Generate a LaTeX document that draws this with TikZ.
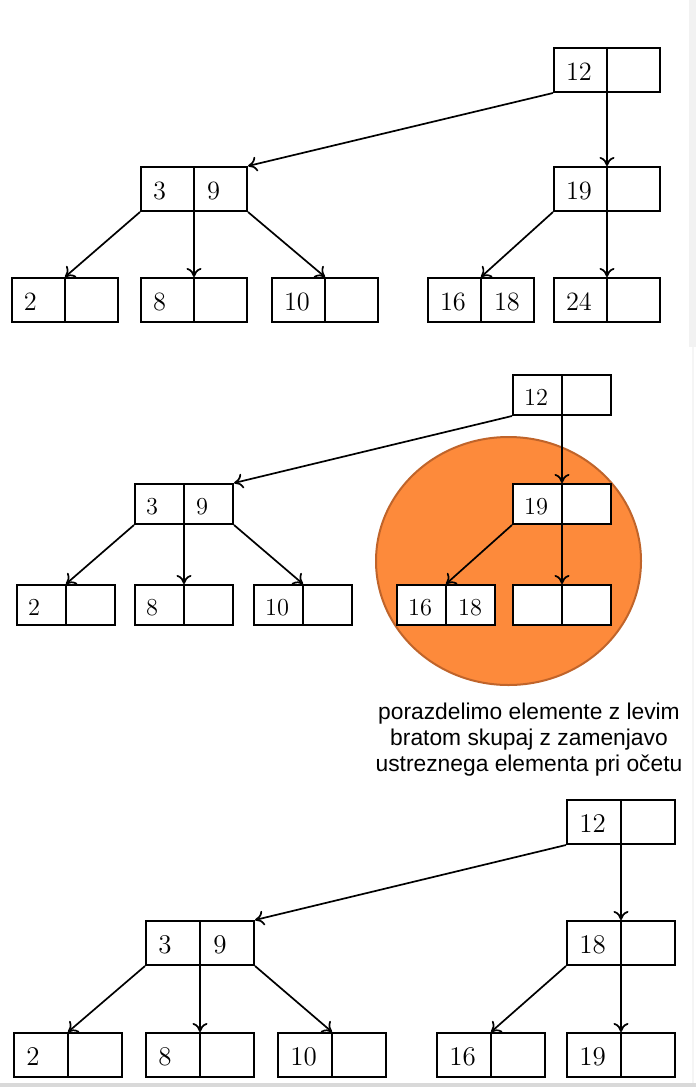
\documentclass[tikz,border=0pt]{standalone}
\usepackage{fontspec}
\newfontfamily\capfont{Liberation Sans}
\usetikzlibrary{arrows.meta,shapes.geometric}
\newcommand\inset{6.3pt}
\newcommand\bkey[6]{%
  \node[#4] (#1) at (#2,#3) {};
  \draw[divline] (#1.north) -- (#1.south);
  \node[lbl, anchor=base west] at ([xshift=\inset, yshift=-5.4pt]#1.west) {#5};
  \node[lbl, anchor=base west] at ([xshift=\inset, yshift=-5.4pt]#1.center) {#6};
}
\tikzset{
  cell/.style={draw, line width=1pt, fill=white, inner sep=0pt, rectangle},
  topbox/.style={cell, minimum width=53pt, minimum height=22pt},
  midbox/.style={cell, minimum width=49pt, minimum height=20pt},
  botbox/.style={cell, minimum width=54pt, minimum height=22pt},
  divline/.style={line width=1pt},
  lbl/.style={inner sep=0pt},
  arr/.style={-{To[length=4.5pt,width=7.5pt]}, line width=0.85pt},
}
\begin{document}
\begin{tikzpicture}[x=0.5pt,y=-0.5pt]
\useasboundingbox (0,0) rectangle (696,1087);
\fill[white] (0,0) rectangle (696,1087);
\fill[black!5] (689,0) rectangle (696,347);
\fill[black!4] (692,347) rectangle (694,1083);
\fill[black!15] (0,1083) rectangle (696,1087);

% ---------------- top panel ----------------
\begin{scope}[lbl/.append style={font=\fontsize{13.2}{15}\selectfont}]
\bkey{t12}{607}{70}{topbox}{12}{}
\bkey{t39}{194}{189}{topbox}{3}{9}
\bkey{t19}{607}{189}{topbox}{19}{}
\bkey{t2}{65}{300}{topbox}{2}{}
\bkey{t8}{194}{300}{topbox}{8}{}
\bkey{t10}{325}{300}{topbox}{10}{}
\bkey{t1618}{481}{300}{topbox}{16}{18}
\bkey{t24}{607}{300}{topbox}{24}{}
\draw[arr] (t12.south west) -- (t39.north east);
\draw[arr] (t12.south) -- (t19.north);
\draw[arr] (t39.south west) -- (t2.north);
\draw[arr] (t39.south) -- (t8.north);
\draw[arr] (t39.south east) -- (t10.north);
\draw[arr] (t19.south west) -- (t1618.north);
\draw[arr] (t19.south) -- (t24.north);
\end{scope}

% ---------------- middle panel ----------------
\node[draw={rgb,255:red,192;green,100;blue,42}, line width=1pt,
      fill={rgb,255:red,253;green,138;blue,59},
      ellipse, inner sep=0pt, minimum width=132.5pt, minimum height=124pt] (hl) at (508.5,561) {};
\begin{scope}[lbl/.append style={font=\fontsize{12.2}{14}\selectfont}]
\renewcommand\inset{5.9pt}
\bkey{m12}{562}{395}{midbox}{12}{}
\bkey{m39}{184}{504}{midbox}{3}{9}
\bkey{m19}{562}{504}{midbox}{19}{}
\bkey{m2}{66}{605}{midbox}{2}{}
\bkey{m8}{184}{605}{midbox}{8}{}
\bkey{m10}{303}{605}{midbox}{10}{}
\bkey{m1618}{446}{605}{midbox}{16}{18}
\bkey{mE}{562}{605}{midbox}{}{}
\draw[arr] (m12.south west) -- (m39.north east);
\draw[arr] (m12.south) -- (m19.north);
\draw[arr] (m39.south west) -- (m2.north);
\draw[arr] (m39.south) -- (m8.north);
\draw[arr] (m39.south east) -- (m10.north);
\draw[arr] (m19.south west) -- (m1618.north);
\draw[arr] (m19.south) -- (mE.north);
\end{scope}
\node[inner sep=0pt, align=center, font=\capfont\fontsize{11.4}{13}\selectfont]
  (cap) at (529,740) {porazdelimo elemente z levim\\bratom skupaj z zamenjavo\\ustreznega elementa pri očetu};

% ---------------- bottom panel ----------------
\begin{scope}[lbl/.append style={font=\fontsize{13.5}{16}\selectfont}]
\renewcommand\inset{6.5pt}
\bkey{b12}{621}{822}{botbox}{12}{}
\bkey{b39}{200}{943}{botbox}{3}{9}
\bkey{b18}{621}{943}{botbox}{18}{}
\bkey{b2}{68}{1055}{botbox}{2}{}
\bkey{b8}{200}{1055}{botbox}{8}{}
\bkey{b10}{332}{1055}{botbox}{10}{}
\bkey{b16}{491}{1055}{botbox}{16}{}
\bkey{b19}{621}{1055}{botbox}{19}{}
\draw[arr] (b12.south west) -- (b39.north east);
\draw[arr] (b12.south) -- (b18.north);
\draw[arr] (b39.south west) -- (b2.north);
\draw[arr] (b39.south) -- (b8.north);
\draw[arr] (b39.south east) -- (b10.north);
\draw[arr] (b18.south west) -- (b16.north);
\draw[arr] (b18.south) -- (b19.north);
\end{scope}
\end{tikzpicture}
\end{document}
